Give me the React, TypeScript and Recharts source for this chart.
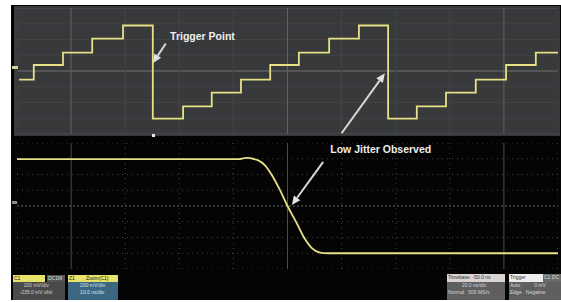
import { Line, LineChart, ReferenceDot, ReferenceLine, XAxis, YAxis } from "recharts";

// time axis in divisions (0..10), amplitude in divisions (-4..4)
const divisions = [0, 1, 2, 3, 4, 5, 6, 7, 8, 9, 10];
const levelsDiv = [-4, -3, -2, -1, 0, 1, 2, 3, 4];
const cursorDivs = [1, 5, 9];

// staircase (source channel)
const stepTimes = [0.04, 0.31, 0.85, 1.39, 1.96, 2.51, 3.07, 3.6, 4.14, 4.68, 5.21, 5.77, 6.32, 6.86, 7.39, 7.93, 8.48, 9.04, 9.59, 10];
const stepLevels = [-0.55, 0.38, 1.17, 2.06, 2.89, -3.02, -2.25, -1.37, -0.55, 0.38, 1.17, 2.06, 2.89, -3.02, -2.25, -1.37, -0.55, 0.38, 1.17, 1.17];

// zoomed falling edge
const edgeTimes = [0, 4.1, 4.2, 4.27, 4.36, 4.46, 4.58, 4.71, 4.86, 5.0, 5.16, 5.3, 5.45, 5.6, 5.75, 10];
const edgeLevels = [2.98, 2.98, 3.04, 3.06, 3.0, 2.9, 2.6, 1.97, 1.02, 0, -1.02, -1.97, -2.67, -2.96, -3.0, -3.0];

const topData = stepTimes.map((t, i) => ({ t, v: stepLevels[i] }));
const zoomData = edgeTimes.map((t, i) => ({ t, v: edgeLevels[i] }));

const traceColor = "#e6e184";
const noteFont = "'Liberation Sans', Arial, sans-serif";
const plotW = 541;
const plotH = 126;

function Arrow(props: any) {
  const { x1, y1, x2, y2 } = props;
  const a = Math.atan2(y2 - y1, x2 - x1);
  const len = 9;
  const wid = 4;
  const bx = x2 - len * Math.cos(a);
  const by = y2 - len * Math.sin(a);
  const px = -Math.sin(a) * wid;
  const py = Math.cos(a) * wid;
  return (
    <g>
      <line x1={x1} y1={y1} x2={bx} y2={by} stroke="#d8d8d8" strokeWidth={2} />
      <polygon points={`${x2},${y2} ${bx + px},${by + py} ${bx - px},${by - py}`} fill="#e2e2e2" />
    </g>
  );
}

function note(text: string) {
  return (props: any) => (
    <text x={props.cx} y={props.cy} dominantBaseline="central" fill="#eeeeee" fontSize={10.5} fontWeight="bold" fontFamily={noteFont}>
      {text}
    </text>
  );
}

function Box({ x, y, w, h, bg, color, children }: any) {
  return (
    <div
      style={{
        position: "absolute", left: x, top: y, width: w, height: h, background: bg, color,
        fontFamily: noteFont, fontSize: 5, lineHeight: "7px", overflow: "hidden", whiteSpace: "pre", padding: "0 1px", boxSizing: "border-box"
      }}
    >
      {children}
    </div>
  );
}

export default function App() {
  return (
    <div style={{ position: "absolute", left: 0, top: 0, width: 561, height: 302, background: "#ffffff" }}>
      <div style={{ position: "absolute", left: 11, top: 5, width: 550, height: 295, background: "#040404" }} />
      <div style={{ position: "absolute", left: 14, top: 6, width: 546, height: 130, background: "#37393b" }} />

      <div style={{ position: "absolute", left: 17, top: 8 }}>
        <LineChart width={plotW} height={plotH} data={topData} margin={{ top: 0, right: 0, bottom: 0, left: 0 }}>
          <XAxis dataKey="t" type="number" domain={[0, 10]} hide />
          <YAxis type="number" domain={[-4, 4]} hide />
          {levelsDiv.map((d) => (
            <ReferenceLine key={"h" + d} y={d} stroke={d === 0 ? "#6e7072" : Math.abs(d) === 4 ? "#55575a" : "#404244"} strokeWidth={1} />
          ))}
          {divisions.map((d) => (
            <ReferenceLine key={"v" + d} x={d} stroke={cursorDivs.includes(d) ? "#606264" : "#434547"} strokeWidth={1} />
          ))}
          <Line dataKey="v" type="stepAfter" stroke={traceColor} strokeWidth={1.8} dot={false} isAnimationActive={false} />
          <ReferenceLine segment={[{ x: 2.75, y: 1.75 }, { x: 2.51, y: 0.5 }]} shape={Arrow} />
          <ReferenceLine segment={[{ x: 6.0, y: -3.95 }, { x: 6.8, y: -0.15 }]} shape={Arrow} />
          <ReferenceDot x={2.83} y={2.25} r={0} shape={note("Trigger Point")} />
        </LineChart>
      </div>

      <div style={{ position: "absolute", left: 17, top: 143 }}>
        <LineChart width={plotW} height={plotH} data={zoomData} margin={{ top: 0, right: 0, bottom: 0, left: 0 }}>
          <XAxis dataKey="t" type="number" domain={[0, 10]} hide />
          <YAxis type="number" domain={[-4, 4]} hide />
          {levelsDiv.map((d) => (
            <ReferenceLine key={"h" + d} y={d} stroke={d === 0 ? "#6c6c6c" : "#454545"} strokeDasharray={d === 0 ? "2 2" : "1 4"} />
          ))}
          {divisions.map((d) =>
            cursorDivs.includes(d) ? (
              <ReferenceLine key={"v" + d} x={d} stroke="#4c4c4c" />
            ) : (
              <ReferenceLine key={"v" + d} x={d} stroke="#454545" strokeDasharray="1 4" />
            )
          )}
          <Line dataKey="v" type="monotone" stroke={traceColor} strokeWidth={1.8} dot={false} isAnimationActive={false} />
          <ReferenceLine segment={[{ x: 5.66, y: 2.8 }, { x: 5.08, y: 0.06 }]} shape={Arrow} />
          <ReferenceDot x={5.79} y={3.62} r={0} shape={note("Low Jitter Observed")} />
        </LineChart>
      </div>

      {/* channel / trigger markers */}
      <div style={{ position: "absolute", left: 12, top: 66, width: 6, height: 3, background: "#d8d49a" }} />
      <div style={{ position: "absolute", left: 12, top: 201, width: 5, height: 3, background: "#8a8a8a" }} />
      <div style={{ position: "absolute", left: 152, top: 134, width: 3, height: 3, background: "#e8e8e8" }} />

      {/* status bar */}
      <Box x={13} y={275} w={32} h={7} bg="#e6e26a" color="#222">C1</Box>
      <Box x={47} y={275} w={18} h={7} bg="#555555" color="#ddd">DC1M</Box>
      <Box x={68} y={275} w={50} h={7} bg="#e6e26a" color="#222">{"Z1        Zoom(C1)"}</Box>
      <Box x={13} y={282} w={52} h={18} bg="#4a4a4a" color="#cfcfcf">{"       200 mV/div\n    -235.0 mV ofst"}</Box>
      <Box x={68} y={282} w={50} h={18} bg="#3c6781" color="#d8e4ea">{"        200 mV/div\n        10.0 ns/div"}</Box>

      <Box x={447} y={274} w={58} h={8} bg="#d9d3d3" color="#333">{"Timebase  -50.0 ns"}</Box>
      <Box x={509} y={274} w={34} h={8} bg="#ececec" color="#333">Trigger</Box>
      <Box x={543} y={274} w={18} h={8} bg="#6a6a6a" color="#ddd">C1 DC</Box>
      <Box x={447} y={282} w={58} h={18} bg="#5f5f5f" color="#d6d6d6">{"          20.0 ns/div\nNormal   500 MS/s"}</Box>
      <Box x={509} y={282} w={52} h={18} bg="#5f5f5f" color="#d6d6d6">{"Auto          0 mV\nEdge   Negative"}</Box>
    </div>
  );
}
